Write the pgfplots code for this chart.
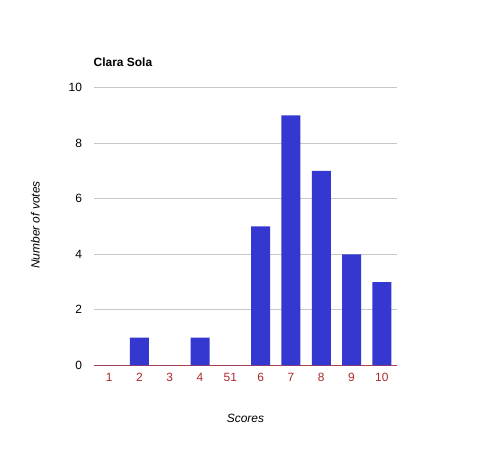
\documentclass[border=0pt]{standalone}
\usepackage{pgfplots}
\pgfplotsset{compat=1.18}
\usepackage{fontspec}
\setmainfont{Liberation Sans}
\definecolor{barblue}{HTML}{3438D0}
\definecolor{axred}{HTML}{A8404E}
\definecolor{tickred}{HTML}{B0282E}
\begin{document}
\begin{tikzpicture}[x=1bp,y=1bp]
\path[use as bounding box] (0,0) rectangle (491,452);
\begin{axis}[
  at={(94bp,86.7bp)}, anchor=south west,
  scale only axis, width=303bp, height=277.6bp,
  xmin=0.5, xmax=10.5, ymin=0, ymax=10,
  ytick={0,2,4,6,8,10},
  xtick={1,2,3,4,5,6,7,8,9,10},
  xticklabels={1,2,3,4,51,6,7,8,9,10},
  axis x line*=bottom, axis y line*=left,
  x axis line style={-, draw=axred, line width=0.9bp},
  y axis line style={draw=none},
  major tick length=0pt,
  ymajorgrids, grid style={draw=black!22, line width=0.8bp},
  /pgf/number format/assume math mode=true,
  tick label style={font=\fontsize{12}{14}\selectfont},
  yticklabel style={black, xshift=-8.5bp},
  xticklabel style={text=tickred, yshift=-4bp},
  ybar, bar width=19bp,
]
\addplot[fill=barblue, draw=none] coordinates {
  (1,0) (2,1) (3,0) (4,1) (5,0) (6,5) (7,9) (8,7) (9,4) (10,3)
};
\end{axis}
\node[anchor=base west, inner sep=0pt, font=\fontsize{12}{14}\selectfont\bfseries] at (93.5,385.3) {Clara Sola};
\node[anchor=base, inner sep=0pt, font=\fontsize{12}{14}\selectfont\itshape] at (245.5,29) {Scores};
\node[anchor=base, inner sep=0pt, rotate=90, font=\fontsize{12}{14}\selectfont\itshape] at (39.5,227) {Number of votes};
\end{tikzpicture}
\end{document}
